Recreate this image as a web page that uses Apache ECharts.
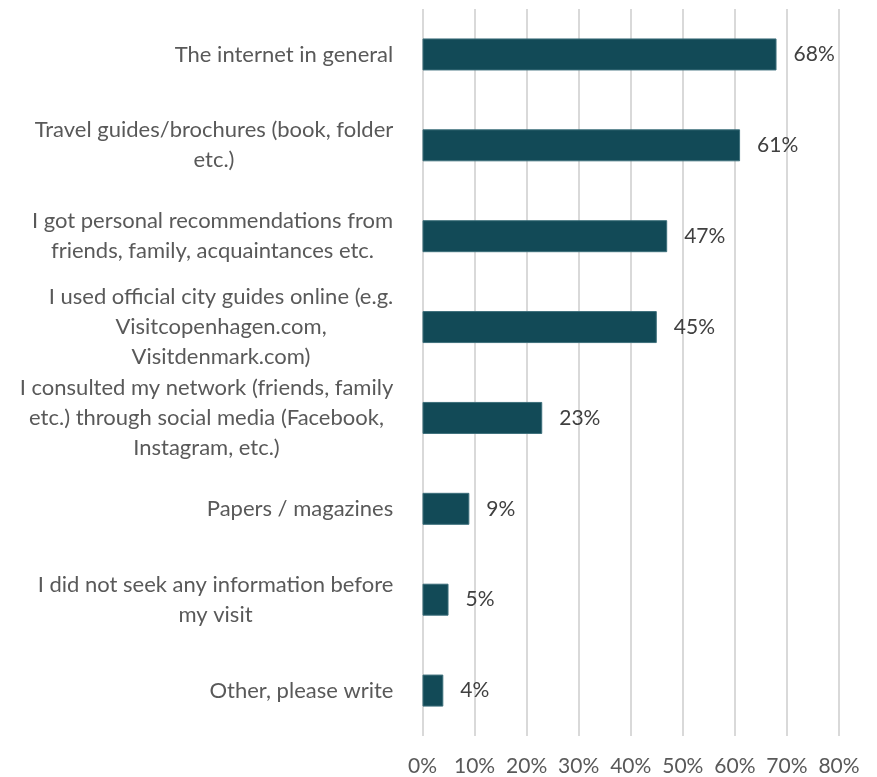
<!DOCTYPE html>
<html>
<head>
<meta charset="utf-8">
<script src="https://cdn.jsdelivr.net/npm/echarts@6/dist/echarts.min.js"></script>
<style>
  html, body { margin: 0; padding: 0; background: #fff; }
  #chart { width: 877px; height: 777px; }
</style>
</head>
<body>
<div id="chart"></div>
<script>
// Information sources used before the visit (share of respondents, %)
const categories = [
  'The internet in general',
  'Travel guides/brochures (book, folder\netc.)',
  'I got personal recommendations from\nfriends, family, acquaintances etc.',
  'I used official city guides online (e.g.\nVisitcopenhagen.com,\nVisitdenmark.com)',
  'I consulted my network (friends, family\netc.) through social media (Facebook,\nInstagram, etc.)',
  'Papers / magazines',
  'I did not seek any information before\nmy visit',
  'Other, please write'
];
const shares = [68, 61, 47, 45, 23, 9, 5, 4];
const xTicks = { min: 0, max: 80, step: 10 };

const FONT = 'Lato';
const CAT_SIZE = 22;
const LABEL_SIZE = 21;
const LINE_H = 30;

// Measure each label's widest line so wrapped lines can be centred in their block
const ctx = document.createElement('canvas').getContext('2d');
ctx.font = CAT_SIZE + 'px ' + FONT;
const rich = {};
categories.forEach((c, i) => {
  const w = Math.max(...c.split('\n').map(s => ctx.measureText(s).width));
  rich['c' + i] = {
    width: Math.ceil(w) + 2,
    align: 'center',
    fontFamily: FONT,
    fontSize: CAT_SIZE,
    lineHeight: LINE_H,
    color: '#595959'
  };
});

const chart = echarts.init(document.getElementById('chart'));
chart.setOption({
  animation: false,
  backgroundColor: '#ffffff',
  grid: { left: 422.5, right: 38, top: 9, bottom: 40, containLabel: false },
  xAxis: {
    type: 'value',
    min: xTicks.min,
    max: xTicks.max,
    interval: xTicks.step,
    axisLine: { show: false },
    axisTick: { show: false },
    splitLine: { show: true, lineStyle: { color: '#d9d9d9', width: 2 } },
    axisLabel: {
      formatter: '{value}%',
      margin: 20,
      fontFamily: FONT,
      fontSize: LABEL_SIZE,
      color: '#595959'
    }
  },
  yAxis: {
    type: 'category',
    inverse: true,
    data: categories,
    axisLine: { show: false },
    axisTick: { show: false },
    axisLabel: {
      margin: 28,
      align: 'right',
      formatter: (val) => {
        const i = categories.indexOf(val);
        return val.split('\n').map(s => '{c' + i + '|' + s + '}').join('\n');
      },
      rich: rich
    }
  },
  series: [{
    type: 'bar',
    data: shares,
    barWidth: 32,
    itemStyle: { color: '#124a57', borderColor: '#3d6f7b', borderWidth: 1 },
    label: {
      show: true,
      position: 'right',
      distance: 17,
      formatter: '{c}%',
      fontFamily: FONT,
      fontSize: LABEL_SIZE,
      color: '#404040'
    }
  }]
});
</script>
</body>
</html>
